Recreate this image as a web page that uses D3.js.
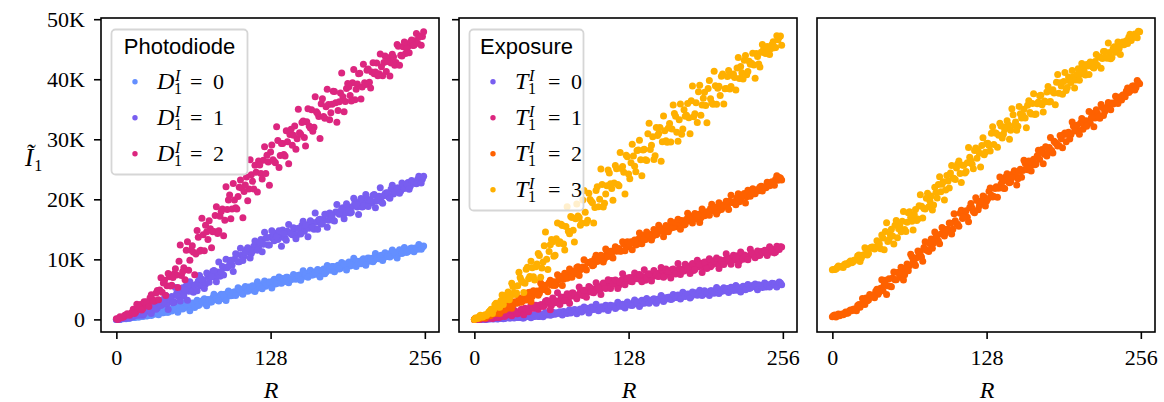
<!DOCTYPE html>
<html>
<head>
<meta charset="utf-8">
<script src="https://cdn.jsdelivr.net/npm/d3@7"></script>
<style>
  body { margin: 0; background: #fff; }
  svg { display: block; }
</style>
</head>
<body>
<svg id="chart" width="1164" height="402"></svg>
<script>
// R values (x): even and odd sample positions
const R = [
  0,2,4,6,8,10,12,14,16,18,20,22,24,26,28,30,
  32,34,36,38,40,42,44,46,48,50,52,54,56,58,60,62,
  64,66,68,70,72,74,76,78,80,82,84,86,88,90,92,94,
  96,98,100,102,104,106,108,110,112,114,116,118,120,122,124,126,
  128,130,132,134,136,138,140,142,144,146,148,150,152,154,156,158,
  160,162,164,166,168,170,172,174,176,178,180,182,184,186,188,190,
  192,194,196,198,200,202,204,206,208,210,212,214,216,218,220,222,
  224,226,228,230,232,234,236,238,240,242,244,246,248,250,252,254
];
const ROdd = [
  1,3,5,7,9,11,13,15,17,19,21,23,25,27,29,31,
  33,35,37,39,41,43,45,47,49,51,53,55,57,59,61,63,
  65,67,69,71,73,75,77,79,81,83,85,87,89,91,93,95,
  97,99,101,103,105,107,109,111,113,115,117,119,121,123,125,127,
  129,131,133,135,137,139,141,143,145,147,149,151,153,155,157,159,
  161,163,165,167,169,171,173,175,177,179,181,183,185,187,189,191,
  193,195,197,199,201,203,205,207,209,211,213,215,217,219,221,223,
  225,227,229,231,233,235,237,239,241,243,245,247,249,251,253,255
];

// intensities in thousands
const photodiode0 = [
  0.0,0.0,0.1,0.1,0.1,0.2,0.3,0.3, 0.4,0.4,0.6,0.5,0.8,0.6,0.9,0.8,
  0.9,1.1,1.3,1.1,1.4,1.2,1.7,1.4, 1.8,2.0,1.7,2.2,1.9,2.5,2.0,2.6,
  2.2,2.8,2.3,2.9,3.2,2.6,3.3,2.9, 3.6,3.3,3.2,4.0,3.5,4.2,3.8,4.5,
  4.0,4.6,4.3,4.9,4.5,5.2,4.8,5.4, 4.9,5.5,5.1,5.8,5.4,5.9,5.5,6.2,
  5.8,6.4,5.9,6.5,6.1,6.8,6.3,7.0, 6.6,6.7,7.3,6.9,7.4,7.0,7.6,7.2,
  7.8,7.4,7.9,7.5,8.2,7.8,8.4,7.9, 8.5,8.2,8.8,8.3,9.0,8.5,9.1,8.8,
  9.3,8.9,9.5,9.1,9.7,9.3,9.9,9.4, 10.1,9.7,10.2,9.9,10.5,10.1,10.7,10.3,
  10.8,10.5,11.1,10.7,11.2,10.9,11.4,11.1, 11.6,11.3,11.8,11.5,11.9,11.7,12.1,12.0
];
const photodiode0Odd = [
  0.04,0.02,0.17,0.13,0.22,0.17,0.38,0.33, 0.44,0.4,0.78,0.62,0.58,1.1,0.66,1.14,
  1.06,0.78,1.3,1.1,1.71,1.21,1.47,1.89, 1.75,1.21,2.37,1.73,2.8,2.34,1.44,2.71,
  2.0,3.18,2.47,3.03,3.42,2.28,3.21,2.88, 4.17,3.48,3.06,4.17,4.02,3.15,4.71,3.93,
  4.41,3.99,5.28,4.95,4.17,5.46,4.68,5.15, 5.61,4.63,6.26,5.37,5.11,6.38,5.76,6.22,
  5.24,6.69,5.98,7.07,6.0,6.64,7.01,6.12, 6.67,7.49,6.69,7.32,6.5,8.11,7.65,7.01,
  8.18,7.38,7.75,8.3,7.05,8.14,7.61,8.97, 8.26,8.81,7.92,8.83,8.39,9.48,9.22,8.23,
  9.57,9.02,10.18,8.82,9.63,9.28,10.1,9.03, 10.21,10.04,9.6,10.96,10.16,10.62,9.82,11.09,
  10.47,10.39,11.57,11.04,10.24,11.6,10.98,11.98, 11.15,11.55,11.89,11.27,11.79,12.49,11.69,12.22
];
const photodiode1 = [
  0.0,0.0,0.2,0.2,0.2,0.3,0.4,0.5, 0.7,0.8,1.1,0.7,1.3,1.7,1.4,1.6,
  2.2,1.9,2.5,2.5,3.6,2.6,3.3,3.8, 2.9,4.3,3.8,4.4,3.9,5.6,4.7,5.6,
  4.5,5.8,6.4,5.6,6.4,5.9,7.1,7.0, 8.0,7.0,7.9,7.2,8.8,8.6,8.6,9.8,
  9.0,10.0,10.8,9.6,10.7,10.5,11.6,11.2, 11.0,12.2,12.2,11.9,13.3,12.5,13.5,12.4,
  13.7,13.5,14.3,13.3,13.7,14.9,13.5,14.7, 14.4,14.1,15.1,14.1,15.1,15.7,14.7,15.4,
  15.2,16.2,15.0,16.2,16.6,15.9,16.6,17.5, 16.5,17.1,16.5,17.9,17.9,17.6,18.6,17.7,
  18.7,17.7,18.8,19.5,18.7,19.6,18.7,19.5, 20.1,19.6,19.4,20.8,19.7,20.5,19.6,20.6,
  21.1,20.4,21.7,20.9,21.4,21.9,21.4,22.1, 22.0,22.8,22.2,22.8,22.7,23.3,22.9,23.4
];
const photodiode1Odd = [
  0.05,0.0,0.21,0.13,0.45,0.24,0.44,0.72, 0.72,0.7,1.33,0.93,1.86,1.6,0.99,2.09,
  1.68,2.74,2.33,2.9,3.98,1.66,3.48,2.78, 5.32,3.91,3.05,5.25,4.93,3.17,6.27,4.69,
  5.63,4.77,7.33,6.67,5.13,7.73,6.19,7.17, 8.15,6.25,9.57,7.85,7.39,10.0,8.84,9.84,
  7.96,10.94,9.6,11.85,9.79,11.14,11.95,10.22, 11.37,13.06,11.51,12.84,11.26,14.52,13.64,12.4,
  14.76,13.11,13.75,14.75,12.18,14.31,13.17,15.79, 14.27,15.27,13.42,15.16,14.21,16.34,15.77,13.78,
  16.45,15.34,17.7,15.02,16.66,15.94,17.53,15.36, 17.7,17.31,16.4,19.12,17.5,18.39,16.77,19.28,
  18.04,17.86,20.17,19.08,17.46,20.13,18.84,20.79, 18.8,19.85,20.67,18.61,20.0,21.92,19.35,20.91,
  21.06,20.18,22.36,21.2,21.88,21.03,22.7,21.8, 22.5,21.68,23.13,22.7,22.58,23.83,22.7,23.85
];
const photodiode2 = [
  0.1,0.1,0.3,0.4,0.7,0.8,1.0,1.7, 1.2,1.9,2.5,1.8,2.7,2.7,3.6,3.3,
  3.1,4.8,4.9,4.5,6.5,5.6,7.1,5.7, 7.6,7.4,9.7,7.3,8.6,11.5,8.2,11.5,
  11.2,10.9,13.7,11.5,14.1,15.7,13.3,15.1, 14.6,17.3,14.3,17.2,18.4,16.5,18.3,20.7,
  18.4,19.9,18.4,22.0,21.9,21.3,23.7,21.7, 24.1,21.7,24.5,26.4,24.3,26.5,24.3,26.2,
  27.9,26.6,26.1,29.8,27.3,29.3,27.2,29.6, 30.8,29.0,32.2,30.1,31.1,32.8,30.3,32.9,
  32.2,34.9,32.0,34.6,33.8,35.9,33.8,35.4, 35.8,34.4,38.0,36.1,34.8,37.7,37.1,36.3,
  39.3,37.3,39.4,36.6,39.2,41.0,38.7,39.4, 41.5,39.5,41.2,40.9,42.7,40.9,42.1,42.8,
  41.3,43.6,42.7,43.7,42.8,45.5,44.0,45.4, 44.3,45.5,46.2,45.6,46.4,46.0,47.2,47.1
];
const photodiode2Odd = [
  0.0,0.46,0.36,0.67,0.93,0.68,1.16,0.98, 2.53,1.88,1.55,2.95,2.95,2.15,4.09,3.03,
  4.41,3.29,6.93,6.06,3.96,7.63,5.56,6.98, 8.42,5.3,12.4,7.92,6.59,12.92,9.85,12.25,
  7.45,14.8,11.35,16.83,11.44,14.6,16.41,11.92, 14.65,18.75,14.75,17.95,13.95,22.09,19.87,16.75,
  22.63,18.61,20.45,23.2,16.95,22.4,19.78,26.58, 22.99,25.69,21.2,25.7,23.4,28.75,27.35,22.35,
  29.05,26.3,32.1,25.3,29.3,27.45,31.43,25.93, 31.68,30.68,28.34,34.99,30.85,33.03,28.88,35.1,
  31.88,31.33,37.09,34.29,30.12,36.75,33.49,38.32, 33.25,35.84,37.95,32.83,36.27,41.05,34.59,38.47,
  38.76,36.36,41.62,38.33,40.9,36.71,42.5,39.14, 41.7,38.55,42.73,41.22,40.6,44.19,40.57,43.86,
  42.95,40.55,44.15,42.35,45.8,42.35,43.87,46.2, 45.13,44.42,46.54,45.65,47.6,47.0,45.65,47.9
];

const exposure0 = [
  0.0,0.05,0.03,0.0,0.12,0.0,0.12,0.19, 0.07,0.15,0.12,0.25,0.11,0.25,0.3,0.22,
  0.3,0.41,0.31,0.39,0.24,0.56,0.54,0.48, 0.7,0.5,0.72,0.5,0.76,0.92,0.74,0.95,
  0.76,0.95,1.12,1.01,0.98,1.33,1.12,1.31, 1.06,1.38,1.55,1.3,1.74,1.46,1.6,1.83,
  1.49,1.84,1.74,2.12,1.71,2.06,1.95,2.24, 1.95,2.18,2.22,2.03,2.52,2.27,2.12,2.55,
  2.49,2.41,2.83,2.6,2.9,2.54,2.91,3.18, 2.89,3.01,3.32,2.99,3.35,3.29,3.65,3.29,
  3.53,3.68,3.38,3.83,3.65,3.86,3.68,4.22, 3.92,4.19,3.83,4.25,4.42,4.15,4.38,4.17,
  4.56,4.46,4.79,4.42,4.69,4.42,4.92,4.82, 4.78,5.13,4.82,5.11,5.33,4.87,5.22,5.09,
  5.44,5.24,5.14,5.52,5.47,5.33,5.77,5.48, 5.79,5.38,5.78,5.71,5.99,5.64,5.8,6.05
];
const exposure0Odd = [
  0.02,0.0,0.12,0.08,0.0,0.14,0.06,0.11, 0.17,0.06,0.25,0.17,0.15,0.31,0.25,0.32,
  0.22,0.4,0.33,0.47,0.22,0.5,0.66,0.26, 0.5,0.86,0.5,0.78,0.42,1.14,0.95,0.68,
  1.2,0.86,1.03,1.28,0.73,1.22,0.99,1.6, 1.26,1.66,0.94,1.62,1.25,2.07,1.84,1.05,
  2.08,1.64,2.52,1.45,2.05,1.75,2.35,1.49, 2.37,2.21,1.83,2.86,2.2,2.54,1.91,2.88,
  2.38,2.31,3.21,2.79,2.15,3.19,2.7,3.46, 2.69,3.1,3.45,2.67,3.22,3.98,2.99,3.61,
  3.67,3.31,4.14,3.64,4.05,3.41,4.52,3.81, 4.22,3.58,4.55,4.19,4.03,4.86,4.0,4.76,
  4.54,3.96,4.79,4.35,5.32,4.33,4.66,5.27, 4.9,4.46,5.34,4.83,5.65,5.28,4.56,5.51,
  4.93,5.82,5.24,5.63,5.88,4.94,5.62,5.31, 6.08,5.67,5.41,6.01,5.9,5.39,6.23,5.77
];
const exposure1 = [
  0.0,0.09,0.01,0.12,0.22,0.18,0.18,0.37, 0.28,0.39,0.32,0.51,0.65,0.65,0.88,0.8,
  1.0,1.31,0.95,1.4,1.33,1.84,1.43,1.9, 1.84,2.25,1.98,2.31,2.43,2.27,3.14,2.66,
  2.36,3.2,3.08,2.9,3.74,3.26,3.86,3.14, 3.86,4.4,3.8,4.04,4.64,3.98,4.7,4.58,
  5.3,4.58,5.06,5.36,4.77,5.67,5.31,5.74, 5.38,6.46,5.86,6.41,5.69,6.53,6.9,6.36,
  6.79,6.31,7.04,6.81,7.41,6.64,7.13,6.53, 7.5,7.27,7.15,7.82,7.18,7.74,8.18,7.24,
  7.92,7.64,8.32,7.92,7.7,8.44,8.34,8.06, 8.92,8.34,8.96,8.14,8.94,8.78,9.34,8.64,
  8.96,9.7,8.76,9.56,9.4,9.24,9.92,9.22, 9.91,10.3,9.61,10.06,9.9,10.59,9.72,10.47,
  10.74,10.16,10.61,11.06,10.63,10.92,10.64,11.29, 11.26,11.15,11.6,11.2,11.65,11.22,11.75,12.08
];
const exposure1Odd = [
  0.0,0.18,0.04,0.3,0.08,0.24,0.34,0.16, 0.3,0.5,0.37,0.59,0.49,0.93,0.91,0.6,
  1.54,0.94,1.25,1.7,0.76,1.65,1.28,2.38, 1.87,2.34,1.69,2.44,2.14,3.03,3.05,1.61,
  3.55,2.76,4.44,2.48,3.64,3.11,4.27,2.7, 4.38,4.11,3.45,5.39,4.21,4.85,3.67,5.48,
  4.56,4.42,6.1,5.31,4.14,6.08,5.16,6.59, 5.15,5.92,6.57,5.13,6.16,7.59,5.76,6.89,
  6.96,6.25,7.74,6.77,7.49,6.25,8.27,6.91, 7.62,6.39,8.15,7.44,7.13,8.64,7.03,8.41,
  7.97,6.88,8.39,7.56,9.33,7.46,8.06,9.18, 8.48,7.65,9.29,8.33,9.84,9.14,7.79,9.56,
  8.47,10.11,9.02,9.75,10.22,8.48,9.73,9.16, 10.94,9.86,9.17,10.69,10.39,9.05,11.21,10.0,
  10.61,9.92,11.7,10.99,10.27,11.4,10.69,11.1, 11.5,10.63,12.08,11.29,11.06,12.18,11.63,12.04
];
const exposure2 = [
  0.0,0.15,0.19,0.26,0.48,0.45,0.69,0.8, 1.04,1.04,1.36,1.35,1.97,1.81,1.89,2.42,
  2.44,2.91,2.78,3.13,3.06,3.86,3.64,4.52, 3.83,4.34,4.73,4.35,5.28,5.01,4.86,6.1,
  5.72,6.29,5.91,6.61,7.13,6.69,7.08,7.66, 7.1,7.98,7.65,8.77,8.27,8.73,8.46,9.46,
  9.41,8.95,10.16,9.63,10.07,10.5,10.1,11.07, 10.66,10.56,11.53,11.36,11.8,11.39,12.54,12.08,
  12.08,12.93,12.75,12.39,13.36,13.24,13.96,13.31, 13.67,14.15,13.8,14.7,14.32,15.25,14.75,14.54,
  15.36,15.04,15.91,15.65,15.45,16.08,16.48,15.73, 16.67,16.41,17.22,16.84,16.77,17.53,16.92,17.74,
  17.73,17.53,18.48,18.04,18.51,18.01,19.08,18.65, 19.12,18.82,19.66,19.47,19.65,20.3,19.58,20.36,
  20.95,20.41,20.82,21.2,20.93,21.54,21.43,22.19, 22.0,21.93,22.62,22.75,22.64,23.36,23.17,23.54
];
const exposure2Odd = [
  0.19,0.09,0.25,0.45,0.25,0.6,0.62,1.06, 1.04,1.3,0.98,1.72,1.56,2.42,2.38,1.86,
  2.9,2.68,3.6,2.84,3.52,3.21,4.46,2.99, 4.76,4.58,4.01,6.05,4.96,5.69,4.6,6.51,
  5.69,5.64,7.42,6.73,5.65,7.69,6.86,8.38, 7.04,7.91,8.64,7.3,8.43,9.95,8.21,9.46,
  9.65,9.07,10.69,9.84,10.69,9.58,11.73,10.49, 11.33,10.23,12.11,11.52,11.33,12.95,11.45,12.94,
  12.61,11.62,13.23,12.51,14.38,12.61,13.32,14.54, 13.94,13.22,14.96,14.09,15.68,15.05,13.78,15.62,
  14.61,16.33,15.31,16.12,16.67,15.0,16.33,15.83, 17.68,16.67,16.04,17.64,17.41,16.15,18.39,17.26,
  17.94,17.33,19.18,18.7,17.56,19.42,18.29,18.98, 19.67,18.29,20.68,19.42,19.08,20.94,20.08,20.78,
  19.39,21.52,20.52,21.75,20.92,21.61,22.05,21.38, 21.99,22.84,22.25,22.94,22.34,23.91,23.64,23.2
];
const exposure3 = [
  0.0,0.16,0.5,0.4,0.66,0.64,1.25,1.71, 1.64,2.69,2.07,3.12,2.46,3.71,4.57,3.85,
  5.49,4.13,5.62,6.96,6.2,6.01,8.67,7.14, 8.6,6.56,9.22,10.63,8.54,12.26,10.02,11.29,
  13.3,10.5,13.45,12.64,15.84,12.54,15.48,14.68, 17.13,14.83,16.78,17.23,15.68,19.88,17.83,16.53,
  19.98,19.43,18.63,22.08,20.03,22.45,19.35,22.25, 24.4,21.8,22.7,25.1,22.25,25.12,24.49,27.36,
  24.23,26.1,27.22,24.59,28.21,26.58,28.2,26.57, 30.94,28.31,30.42,27.27,30.62,31.97,29.57,31.41,
  29.51,32.61,31.71,34.3,31.15,33.25,30.83,34.92, 34.0,33.58,36.42,33.75,36.08,37.92,34.0,36.82,
  35.64,38.45,36.77,35.84,38.91,38.48,37.3,40.86, 38.43,40.46,38.38,40.61,40.29,41.88,40.12,41.07,
  43.15,40.75,42.98,42.67,42.36,44.29,42.55,44.48, 44.97,44.27,45.08,45.09,46.23,45.28,46.56,47.2
];
const exposure3Odd = [
  0.23,0.18,0.7,0.38,0.78,0.88,1.45,1.0, 2.45,2.42,2.04,4.07,3.25,4.1,3.28,6.02,
  4.46,4.4,7.84,6.53,4.46,8.37,6.78,9.7, 7.11,8.77,10.98,7.0,9.58,14.57,8.33,12.45,
  12.93,10.68,16.07,12.92,15.62,11.56,18.76,14.26, 16.96,12.91,19.21,16.96,16.06,21.46,16.06,21.01,
  19.66,16.06,21.46,18.76,25.04,18.7,20.9,24.9, 22.6,19.85,25.65,22.45,27.79,25.46,20.88,27.1,
  23.42,29.19,25.51,28.13,29.85,23.92,28.34,26.46, 32.68,28.99,26.65,31.95,30.95,26.35,33.89,29.74,
  31.89,29.54,35.73,33.83,29.68,35.87,31.7,33.84, 35.97,30.9,38.89,34.27,32.8,38.99,35.71,37.83,
  32.75,39.81,36.08,41.35,35.82,38.84,40.51,35.87, 38.44,41.46,38.78,40.89,38.21,43.62,42.14,40.05,
  43.97,41.29,42.51,44.34,40.17,43.8,42.04,45.8, 44.35,45.44,44.12,45.8,45.24,47.25,47.05,45.65
];

// third panel: two offset series
const offsetHigh = [
  8.26,8.3,8.66,8.74,8.76,9.16,9.14,9.52, 9.42,9.86,9.94,10.72,10.24,10.78,11.74,10.99,
  11.97,12.0,12.03,12.89,11.75,13.56,14.62,12.98, 14.19,13.9,15.7,13.61,15.57,16.33,14.99,16.2,
  17.92,16.33,17.45,16.47,18.93,18.85,18.47,20.18, 18.75,20.54,19.04,21.13,22.48,21.27,22.92,21.56,
  23.06,24.4,23.55,23.29,25.89,24.28,25.68,24.37, 26.07,27.01,25.86,28.15,26.85,27.69,28.98,27.42,
  29.31,28.95,30.99,29.13,31.02,30.66,32.21,30.87, 32.09,32.4,31.51,34.08,32.89,32.16,34.27,33.99,
  33.55,35.65,34.44,35.94,34.13,35.93,37.27,35.77, 36.36,37.86,36.2,38.0,37.69,39.49,37.68,38.88,
  39.62,38.12,40.36,39.46,40.4,39.88,41.76,40.85, 41.83,40.71,42.19,42.87,42.05,42.94,42.32,43.7,
  43.47,44.63,43.5,44.47,43.63,45.4,45.17,45.13, 46.05,45.74,46.42,47.01,46.44,47.23,47.21,48.0
];
const offsetHighOdd = [
  8.31,8.39,8.89,8.82,8.66,9.25,9.21,9.71, 9.55,9.9,10.55,9.65,10.65,11.95,10.73,11.8,
  12.07,11.73,13.1,12.57,14.07,11.58,16.09,13.32, 15.03,12.54,16.48,15.11,14.58,17.97,14.64,17.78,
  17.03,14.88,18.32,16.73,20.74,16.9,18.39,21.0, 19.72,18.21,22.01,20.22,23.74,22.51,19.87,23.96,
  21.88,25.64,23.46,25.21,26.39,22.82,25.68,24.63, 28.61,26.44,25.1,28.53,28.06,25.37,30.24,27.83,
  29.34,28.05,32.08,31.07,28.66,32.67,30.2,31.63, 33.07,30.02,35.09,32.33,31.52,35.48,33.55,34.99,
  31.93,36.43,34.2,37.58,34.23,36.21,37.34,34.56, 36.25,38.79,36.28,38.26,35.75,40.81,39.42,37.48,
  41.13,38.63,39.76,41.46,38.54,40.8,39.83,42.63, 41.29,42.47,40.77,42.67,41.88,44.14,43.7,41.82,
  44.6,43.61,46.04,43.42,45.13,44.5,46.2,44.13, 46.21,46.22,45.97,47.51,46.9,47.54,46.93,47.9
];
const offsetLow = [
  0.42,0.72,0.64,0.62,0.88,0.93,1.01,1.4, 1.45,1.72,1.45,2.46,2.48,2.64,3.55,3.21,
  3.93,3.99,4.7,4.2,5.2,4.8,6.5,5.6, 5.5,6.9,6.6,7.8,7.0,7.91,7.42,9.23,
  8.94,10.45,9.36,10.27,10.98,10.39,11.98,11.55, 11.31,13.38,12.74,13.71,13.07,14.24,15.1,14.37,
  15.03,16.0,15.02,16.44,15.85,17.67,16.79,17.51, 17.03,18.65,18.56,17.78,19.8,18.93,19.65,20.38,
  19.71,21.33,20.66,20.48,22.11,21.84,22.55,21.84, 23.74,22.93,22.93,24.32,24.02,23.41,25.01,24.8,
  26.0,24.91,25.53,26.34,25.76,27.27,26.69,28.3, 27.51,27.23,28.64,28.15,29.66,29.26,28.97,30.07,
  30.78,29.58,31.19,30.79,32.2,31.57,31.45,32.72, 31.69,33.07,33.04,32.71,34.28,33.56,34.33,33.5,
  35.29,34.58,35.37,35.21,36.04,36.03,36.32,37.01, 36.55,37.38,38.06,37.79,38.31,38.89,38.62,39.45
];
const offsetLowOdd = [
  0.63,0.41,0.88,0.78,0.77,1.24,1.05,1.55, 1.63,1.56,2.32,2.01,3.49,2.46,3.12,4.16,
  3.93,3.62,5.0,4.58,6.59,5.81,4.13,6.77, 5.45,7.91,6.59,7.79,8.68,6.58,8.61,8.12,
  10.87,9.66,8.99,11.38,11.25,9.67,12.93,11.49, 12.58,11.86,14.57,14.03,12.6,15.3,13.87,14.95,
  16.04,14.22,17.6,15.94,15.53,18.19,17.07,18.11, 16.27,19.29,17.98,20.28,18.27,19.67,20.54,18.89,
  20.11,21.88,20.4,21.81,20.34,23.72,22.94,21.79, 24.25,22.74,23.58,24.77,22.37,24.64,23.68,26.49,
  25.18,26.39,24.73,26.66,25.9,28.19,27.79,25.94, 28.77,27.83,30.3,27.73,29.47,28.88,30.62,28.59,
  31.05,30.82,30.04,32.87,31.36,32.35,30.83,33.44, 32.27,32.19,34.62,33.63,32.1,34.9,33.73,35.81,
  33.94,35.13,36.14,34.9,35.89,37.18,35.97,37.06, 37.37,37.1,38.53,38.05,38.88,38.21,39.8,39.25
];

const xTicks = [0, 128, 256];
const yTicks = [0, 10, 20, 30, 40, 50];
const yTickLabels = ["0", "10K", "20K", "30K", "40K", "50K"];

const photodiodeLevels = ["0", "1", "2"];
const exposureLevels = ["0", "1", "2", "3"];

const blue = "#648FFF", violet = "#785EF0", magenta = "#DC267F", orange = "#FE6100", gold = "#FFB000";

const serif = "'Liberation Serif', 'Times New Roman', serif";
const sans = "'Liberation Sans', Arial, sans-serif";

const svg = d3.select("#chart");
const plotTop = 18, plotBottom = 332, panelW = 338;
const panelLeft = [101, 459, 817];

const y = d3.scaleLinear().domain([-2.1, 50.2]).range([plotBottom, plotTop]);

const panels = [
  {
    series: [[photodiode0, photodiode0Odd, blue], [photodiode1, photodiode1Odd, violet], [photodiode2, photodiode2Odd, magenta]],
    yTicks: "labels",
    legend: { title: "Photodiode", sym: "D", levels: photodiodeLevels, colors: [blue, violet, magenta], w: 136, scriptDx: 18 }
  },
  {
    series: [[exposure0, exposure0Odd, violet], [exposure1, exposure1Odd, magenta], [exposure2, exposure2Odd, orange], [exposure3, exposure3Odd, gold]],
    yTicks: "marks",
    legend: { title: "Exposure", sym: "T", levels: exposureLevels, colors: [violet, magenta, orange, gold], w: 114, scriptDx: 14 }
  },
  {
    series: [[offsetLow, offsetLowOdd, orange], [offsetHigh, offsetHighOdd, gold]],
    yTicks: "none",
    legend: null
  }
];

panels.forEach((p, k) => {
  const left = panelLeft[k];
  const x = d3.scaleLinear().domain([-12.75, 267.75]).range([left, left + panelW]);
  const g = svg.append("g");

  // scatter points, even and odd R samples of each series
  p.series.forEach(([vals, valsOdd, color]) => {
    const pts = vals.map((v, i) => [R[i], v]).concat(valsOdd.map((v, i) => [ROdd[i], v]));
    g.append("g")
      .selectAll("circle")
      .data(pts)
      .enter().append("circle")
      .attr("cx", d => x(d[0]))
      .attr("cy", d => y(d[1]))
      .attr("r", 3.5)
      .attr("fill", color);
  });

  // x axis
  const xa = g.append("g")
    .attr("transform", `translate(0,${plotBottom})`)
    .call(d3.axisBottom(x).tickValues(xTicks).tickSize(7).tickPadding(10).tickFormat(d3.format("d")));
  xa.select(".domain").remove();

  // y axis
  if (p.yTicks !== "none") {
    const ya = g.append("g")
      .attr("transform", `translate(${left},0)`)
      .call(d3.axisLeft(y).tickValues(yTicks).tickSize(7).tickPadding(9)
        .tickFormat((d, i) => p.yTicks === "labels" ? yTickLabels[i] : ""));
    ya.select(".domain").remove();
  }

  g.selectAll(".tick line").attr("stroke", "#000").attr("stroke-width", 1.6);
  g.selectAll(".tick text")
    .attr("fill", "#000")
    .style("font-family", serif)
    .style("font-size", "22px");

  // frame
  g.append("rect")
    .attr("x", left).attr("y", plotTop)
    .attr("width", panelW).attr("height", plotBottom - plotTop)
    .attr("fill", "none")
    .attr("stroke", "#000")
    .attr("stroke-width", 1.6);

  // x label
  g.append("text")
    .attr("x", left + panelW / 2 + 1).attr("y", 398)
    .attr("text-anchor", "middle")
    .style("font-family", serif).style("font-style", "italic").style("font-size", "24px")
    .text("R");

  // legend
  if (p.legend) {
    const L = p.legend;
    const bx = left + 10, by = 29;
    const bh = 55 + 36 * L.levels.length - 19 + 1;
    const lg = g.append("g");
    lg.append("rect")
      .attr("x", bx + 0.5).attr("y", by + 0.5)
      .attr("width", L.w).attr("height", bh)
      .attr("rx", 4)
      .attr("fill", "rgba(255,255,255,0.8)")
      .attr("stroke", "#d6d6d6")
      .attr("stroke-width", 1.8);
    lg.append("text")
      .attr("x", bx + L.w / 2 + 0.5).attr("y", 54)
      .attr("text-anchor", "middle")
      .style("font-family", sans).style("font-size", "22px")
      .text(L.title);
    L.levels.forEach((lev, i) => {
      const yc = 81.7 + 36 * i;
      lg.append("circle")
        .attr("cx", bx + 24).attr("cy", yc).attr("r", 2.7)
        .attr("fill", L.colors[i]);
      const tx = bx + 46;
      const t = lg.append("text")
        .attr("x", tx).attr("y", yc + 7)
        .style("font-family", serif).style("font-size", "22px");
      t.append("tspan").style("font-style", "italic").style("font-size", "24px").text(L.sym);
      t.append("tspan").attr("x", tx + L.scriptDx).attr("dy", -8)
        .style("font-style", "italic").style("font-size", "16px").text("I");
      t.append("tspan").attr("x", tx + L.scriptDx - 1).attr("dy", 13)
        .style("font-size", "16px").text("1");
      t.append("tspan").attr("x", tx + 33).attr("dy", -5).text("=");
      t.append("tspan").attr("x", tx + 56).text(lev);
    });
  }
});

// y label
const yl = svg.append("text")
  .attr("x", 25).attr("y", 166)
  .style("font-family", serif);
yl.append("tspan").style("font-style", "italic").style("font-size", "25px").text("\u0128");
yl.append("tspan").attr("dx", 1).attr("dy", 5).style("font-size", "16px").text("1");
</script>
</body>
</html>
